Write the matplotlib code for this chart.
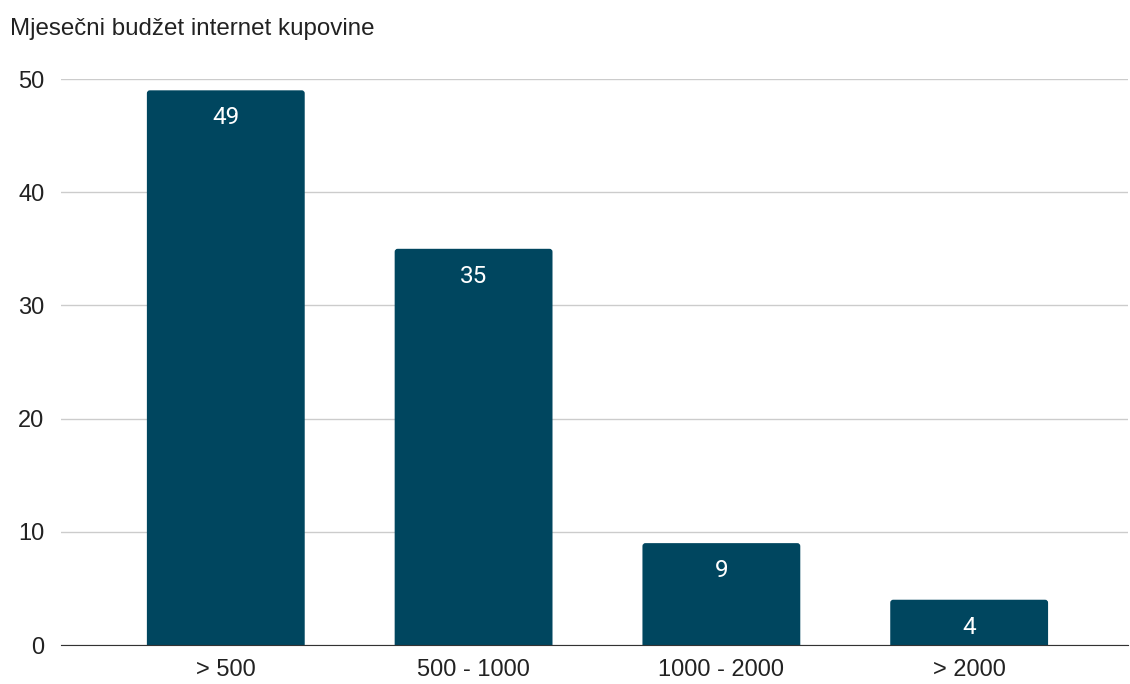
import matplotlib.pyplot as plt
from matplotlib.patches import FancyBboxPatch

# data
categories = ["> 500", "500 - 1000", "1000 - 2000", "> 2000"]
values = [49, 35, 9, 4]
yticks = [0, 10, 20, 30, 40, 50]

bar_color = "#00465f"

fig = plt.figure(figsize=(11.3, 6.84), dpi=100)
ax = fig.add_axes([0.054, 0.057, 0.944, 0.8275])

x = range(len(categories))
bars = ax.bar(x, values, width=0.637, color=bar_color, zorder=3)

ax.set_xlim(-0.665, 3.64)
ax.set_ylim(0, 50)

# swap plain bars for ones with slightly rounded top corners
px_x = 1 / 248.0
px_y = 50 / 566.0
for rect in bars:
    rect.set_visible(False)
    bx, bw, bh = rect.get_x(), rect.get_width(), rect.get_height()
    p = FancyBboxPatch((bx, -2), bw, bh + 2,
                       boxstyle="round,pad=0,rounding_size=%f" % (3 * px_x),
                       mutation_aspect=px_y / px_x,
                       facecolor=bar_color, edgecolor="none", zorder=3)
    ax.add_patch(p)

# value labels inside bars, near the top
for xi, v in zip(x, values):
    ax.annotate(str(v), (xi, v), xytext=(0, -11.5), textcoords="offset points",
                ha="center", va="top", color="white", fontsize=17.5,
                fontfamily="Roboto", zorder=4)

ax.set_yticks(yticks)
ax.set_xticks(list(x))
ax.set_xticklabels(categories)

for lab in ax.get_xticklabels() + ax.get_yticklabels():
    lab.set_fontfamily("Liberation Sans")
    lab.set_fontsize(17)
    lab.set_color("#222222")

ax.grid(axis="y", color="#cccccc", linewidth=1, zorder=0)
ax.tick_params(length=0)
ax.tick_params(axis="x", pad=10)
ax.tick_params(axis="y", pad=12)
for side in ["top", "right", "left"]:
    ax.spines[side].set_visible(False)
ax.spines["bottom"].set_color("#333333")
ax.spines["bottom"].set_zorder(5)

fig.text(0.009, 0.958, "Mjesečni budžet internet kupovine", ha="left", va="center",
         fontsize=17.4, fontfamily="Liberation Sans", color="#222222")

fig.savefig("out.png", dpi=100)
